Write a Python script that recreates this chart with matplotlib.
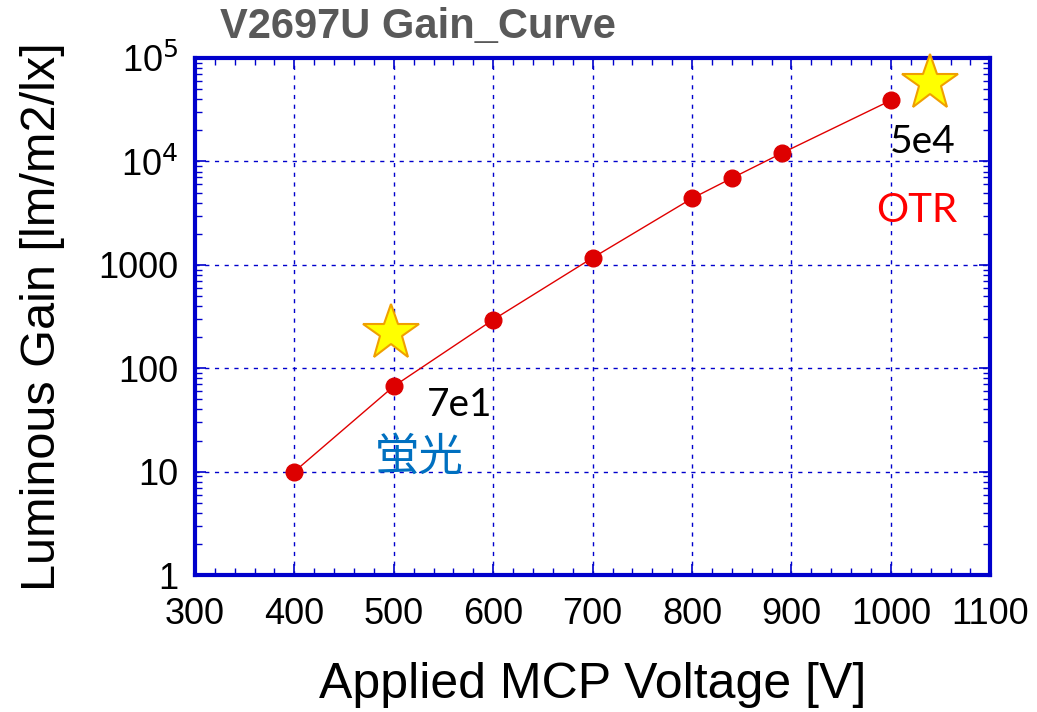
import matplotlib
matplotlib.use("Agg")
import matplotlib.pyplot as plt
from matplotlib.ticker import MultipleLocator, LogLocator, FixedLocator, NullFormatter

# --- dados ---
tensao = [400, 500, 600, 700, 800, 840, 890, 1000]
ganho = [10, 67, 295, 1170, 4400, 6900, 12000, 39000]

estrela_x = [497, 1039]
estrela_y = [220, 58000]

yticks_val = [1, 10, 100, 1000, 1e4, 1e5]
yticks_lab = ["1", "10", "100", "1000", r"10$^4$", r"10$^5$"]
xticks_val = [300, 400, 500, 600, 700, 800, 900, 1000, 1100]

fonte = "Liberation Sans"
azul = "#0000CC"

fig = plt.figure(figsize=(10.37, 7.12), dpi=100)
ax = fig.add_axes([0.188, 0.1924, 0.767, 0.726])

ax.plot(tensao, ganho, "-", color="#E00000", lw=1.0, zorder=3)
ax.plot(tensao, ganho, "o", color="#DD0000", ms=12, zorder=4)
ax.plot(estrela_x, estrela_y, "*", ms=42, mfc="#FFFF00", mec="#F0A000", mew=1.5,
        zorder=5, clip_on=False)

ax.set_yscale("log")
ax.set_xlim(300, 1100)
ax.set_ylim(1, 1e5)

ax.xaxis.set_major_locator(FixedLocator(xticks_val))
ax.xaxis.set_minor_locator(MultipleLocator(20))
ax.set_yticks(yticks_val)
ax.set_yticklabels(yticks_lab)
ax.yaxis.set_minor_locator(LogLocator(base=10, subs=range(2, 10)))
ax.yaxis.set_minor_formatter(NullFormatter())

ax.grid(True, which="major", color=azul, ls=(0, (3, 4)), lw=1.0)
ax.tick_params(which="both", direction="in", top=True, right=True, color=azul)
ax.tick_params(which="major", length=8, width=1.2, labelsize=26)
ax.tick_params(axis="x", which="major", pad=16)
ax.tick_params(axis="y", which="major", pad=12)
ax.tick_params(which="minor", length=5, width=1.0)
for lab in ax.get_xticklabels() + ax.get_yticklabels():
    lab.set_fontfamily(fonte)

for sp in ax.spines.values():
    sp.set_color(azul)
    sp.set_linewidth(3)

# rótulos dos eixos posicionados à mão (como no original)
ax.set_xlabel("Applied MCP Voltage [V]", fontsize=36, family=fonte)
ax.xaxis.label.set_va("baseline")
ax.xaxis.set_label_coords(0.5, -0.237)
ax.set_ylabel("Luminous Gain [lm/m2/lx]", fontsize=35, family=fonte, labelpad=24)

fig.text(0.212, 0.962, "V2697U Gain_Curve", fontsize=30, fontweight="bold",
         color="#595959", family="Liberation Sans", va="center", ha="left")

ax.text(566, 44, "7e1", fontsize=28, family="Lato", color="black", ha="center", va="center")
ax.text(526, 13.8, "蛍光", fontsize=32, family=["Noto Sans CJK JP", "DejaVu Sans"],
        color="#0070C0", ha="center", va="center")
ax.text(1032, 15400, "5e4", fontsize=28, family="Lato", color="black", ha="center", va="center")
ax.text(1026, 3390, "OTR", fontsize=29, family="Lato", color="#FF0000", ha="center", va="center")

fig.savefig("out.png", dpi=100)
